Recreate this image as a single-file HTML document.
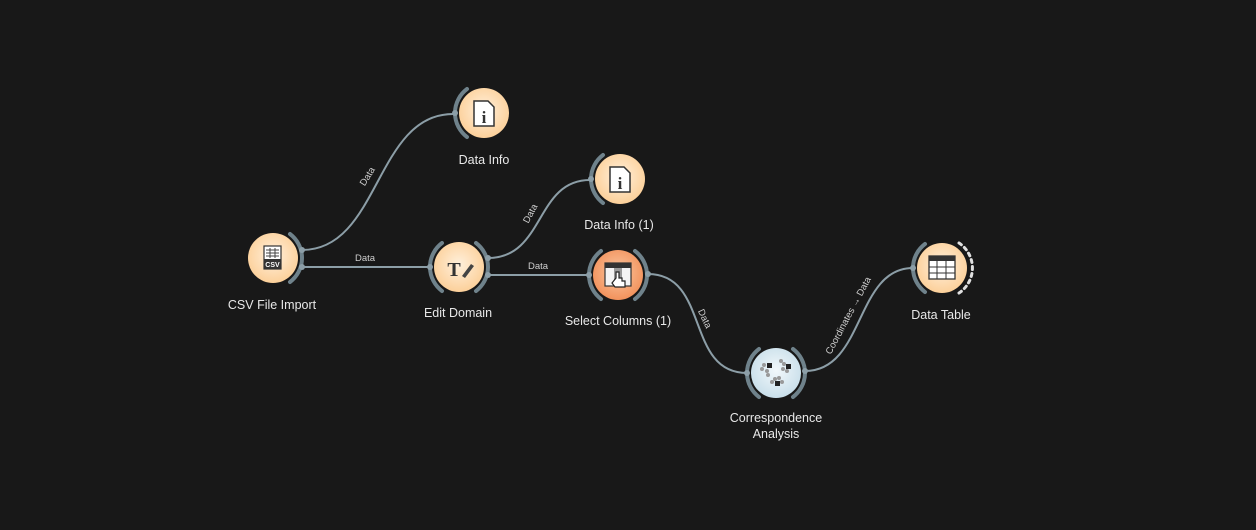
<!DOCTYPE html>
<html><head><meta charset="utf-8"><style>
html,body{margin:0;padding:0;background:#181818;}
svg{display:block}
.lbl{fill:#e8e8e8;font-size:12.5px;text-anchor:middle;font-family:"Liberation Sans",sans-serif}
.el{fill:#cfcfcf;font-size:9.5px;text-anchor:middle;font-family:"Liberation Sans",sans-serif}
.serif{font-family:"Liberation Serif",serif;font-weight:bold;fill:#333;text-anchor:middle}
.edge{fill:none;stroke:#8c9ea7;stroke-width:2}
.arc{fill:none;stroke:#6f828b;stroke-width:4;stroke-linecap:round}
.dot{fill:#8c9ea7}
</style></head><body>
<svg width="1256" height="530" viewBox="0 0 1256 530" xmlns="http://www.w3.org/2000/svg">
<defs>
<radialGradient id="peach" cx="50%" cy="45%" r="55%"><stop offset="0" stop-color="#fff0dc"/><stop offset="1" stop-color="#fcd09a"/></radialGradient>
<radialGradient id="orange" cx="50%" cy="45%" r="55%"><stop offset="0" stop-color="#fbc8a2"/><stop offset="1" stop-color="#f2925c"/></radialGradient>
<radialGradient id="blue" cx="50%" cy="45%" r="55%"><stop offset="0" stop-color="#f2f8fb"/><stop offset="1" stop-color="#c9dfea"/></radialGradient>
</defs>

<path class="edge" d="M302,250 C380,250 375,114 453,114"/>
<path class="edge" d="M302,267 L429,267"/>
<path class="edge" d="M488,258 C545,258 535,180 590,180"/>
<path class="edge" d="M488,275 L588,275"/>
<path class="edge" d="M648,274 C710,274 685,373 747,373"/>
<path class="edge" d="M805,371 C865,371 855,268 913,268"/>

<text class="el" transform="translate(370,178) rotate(-58)">Data</text>
<text class="el" x="365" y="261">Data</text>
<text class="el" transform="translate(533,215) rotate(-62)">Data</text>
<text class="el" x="538" y="269">Data</text>
<text class="el" transform="translate(702,320) rotate(65)">Data</text>
<text class="el" transform="translate(851,317) rotate(-62)">Coordinates → Data</text>

<!-- CSV -->
<path class="arc" d="M290,234 A30 30 0 0 1 290,282"/>
<circle cx="273" cy="258" r="25" fill="url(#peach)"/>
<rect x="264" y="246" width="17" height="23" fill="#fff" stroke="#333" stroke-width="1.2"/>
<g stroke="#444" stroke-width="1"><line x1="266" y1="250" x2="279" y2="250"/><line x1="266" y1="253" x2="279" y2="253"/><line x1="266" y1="256" x2="279" y2="256"/><line x1="270" y1="248" x2="270" y2="258"/><line x1="275" y1="248" x2="275" y2="258"/></g>
<rect x="264" y="259" width="17" height="10" fill="#333"/>
<text x="272.5" y="267" font-size="7" fill="#fff" text-anchor="middle" font-weight="bold" style="font-family:'Liberation Sans',sans-serif">CSV</text>
<circle class="dot" cx="302" cy="250" r="3"/><circle class="dot" cx="302" cy="267" r="3"/>
<text class="lbl" x="272" y="309">CSV File Import</text>

<!-- Data Info -->
<path class="arc" d="M467,89 A30 30 0 0 0 467,137"/>
<circle cx="484" cy="113" r="25" fill="url(#peach)"/>
<path d="M474,101 h14 l6,6 v19 h-20 z" fill="#fff" stroke="#333" stroke-width="1.5"/>
<text class="serif" x="484" y="123" font-size="17">i</text>
<circle class="dot" cx="455" cy="113" r="3"/>
<text class="lbl" x="484" y="164">Data Info</text>

<!-- Data Info (1) -->
<path class="arc" d="M603,155 A30 30 0 0 0 603,203"/>
<circle cx="620" cy="179" r="25" fill="url(#peach)"/>
<path d="M610,167 h14 l6,6 v19 h-20 z" fill="#fff" stroke="#333" stroke-width="1.5"/>
<text class="serif" x="620" y="189" font-size="17">i</text>
<circle class="dot" cx="591" cy="179" r="3"/>
<text class="lbl" x="619" y="229">Data Info (1)</text>

<!-- Edit Domain -->
<path class="arc" d="M476,243 A30 30 0 0 1 476,291"/>
<path class="arc" d="M442,243 A30 30 0 0 0 442,291"/>
<circle cx="459" cy="267" r="25" fill="url(#peach)"/>
<text class="serif" x="454" y="276" font-size="20">T</text>
<path d="M462,276 l9,-12 l3,2 l-9,12 z" fill="#444"/>
<circle class="dot" cx="430" cy="267" r="3"/><circle class="dot" cx="488" cy="258" r="3"/><circle class="dot" cx="488" cy="275" r="3"/>
<text class="lbl" x="458" y="317">Edit Domain</text>

<!-- Select Columns -->
<path class="arc" d="M635,251 A30 30 0 0 1 635,299"/>
<path class="arc" d="M601,251 A30 30 0 0 0 601,299"/>
<circle cx="618" cy="275" r="25" fill="url(#orange)"/>
<rect x="605" y="263" width="26" height="23" fill="#f4f4f4" stroke="#333" stroke-width="1.2"/>
<rect x="605" y="263" width="26" height="5" fill="#333"/>
<rect x="614" y="268" width="8" height="18" fill="#999"/>
<path d="M616,278 v-6 h3 v6 h3 v3 h3 v6 h-10 l-3,-4 z" fill="#fff" stroke="#222" stroke-width="1.2"/>
<circle class="dot" cx="589" cy="275" r="3"/><circle class="dot" cx="648" cy="274" r="3"/>
<text class="lbl" x="618" y="325">Select Columns (1)</text>

<!-- Correspondence -->
<path class="arc" d="M793,349 A30 30 0 0 1 793,397"/>
<path class="arc" d="M759,349 A30 30 0 0 0 759,397"/>
<circle cx="776" cy="373" r="25" fill="url(#blue)"/>
<g fill="#999"><circle cx="764" cy="365" r="2"/><circle cx="762" cy="369" r="2"/><circle cx="767" cy="371" r="2"/><circle cx="768" cy="375" r="2"/><circle cx="781" cy="361" r="2"/><circle cx="784" cy="364" r="2"/><circle cx="783" cy="369" r="2"/><circle cx="787" cy="371" r="2"/><circle cx="775" cy="379" r="2"/><circle cx="779" cy="378" r="2"/><circle cx="772" cy="382" r="2"/><circle cx="782" cy="382" r="2"/></g>
<g fill="#222"><rect x="767" y="363" width="5" height="5"/><rect x="786" y="364" width="5" height="5"/><rect x="775" y="381" width="5" height="5"/></g>
<circle class="dot" cx="747" cy="373" r="3"/><circle class="dot" cx="805" cy="371" r="3"/>
<text class="lbl" x="776" y="422">Correspondence</text>
<text class="lbl" x="776" y="438">Analysis</text>

<!-- Data Table -->
<path class="arc" d="M925,244 A30 30 0 0 0 925,292"/>
<path d="M959,243 A30 30 0 0 1 959,293" fill="none" stroke="#e0e0e0" stroke-width="3" stroke-dasharray="3 4" stroke-linecap="round"/>
<circle cx="942" cy="268" r="25" fill="url(#peach)"/>
<rect x="929" y="256" width="26" height="23" fill="#fff" stroke="#333" stroke-width="1.3"/>
<rect x="929" y="256" width="26" height="5" fill="#333"/>
<g stroke="#333" stroke-width="1"><line x1="929" y1="267" x2="955" y2="267"/><line x1="929" y1="273" x2="955" y2="273"/><line x1="937" y1="261" x2="937" y2="279"/><line x1="946" y1="261" x2="946" y2="279"/></g>
<circle class="dot" cx="913" cy="268" r="3"/>
<text class="lbl" x="941" y="319">Data Table</text>
</svg>
</body></html>
